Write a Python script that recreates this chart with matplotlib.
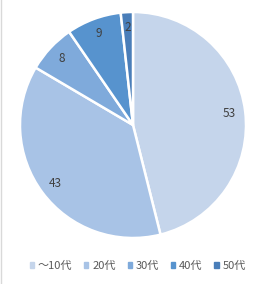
import matplotlib
matplotlib.use("Agg")
import matplotlib.pyplot as plt
from matplotlib.patches import Rectangle

plt.rcParams['font.family'] = ['Noto Sans CJK JP', 'DejaVu Sans']

categories = ["～10代", "20代", "30代", "40代", "50代"]
values = [53, 43, 8, 9, 2]
colors = ["#C5D5EB", "#A8C3E6", "#7FAADB", "#5793CE", "#4A7EB9"]

fig = plt.figure(figsize=(2.65, 2.84), dpi=100)
ax = fig.add_axes([(133 - 113) / 265, 1 - (125 + 113) / 284, 226 / 265, 226 / 284])

wedges, texts = ax.pie(values, labels=[str(v) for v in values], colors=colors,
                       startangle=90, counterclock=False, labeldistance=0.86,
                       wedgeprops=dict(edgecolor="white", linewidth=1.8),
                       textprops=dict(color="#404040", fontsize=8.5))
for t in texts:
    t.set_horizontalalignment("center")
    t.set_verticalalignment("center")
ax.set_xlim(-1.0, 1.0)
ax.set_ylim(-1.0, 1.0)
ax.set_aspect("equal")

handles = [Rectangle((0, 0), 1, 1, color=c) for c in colors]
fig.legend(handles, categories, loc="center", bbox_to_anchor=(0.52, 1 - 266 / 284),
           ncol=5, frameon=False, fontsize=8, handlelength=0.4, handleheight=0.4,
           handletextpad=0.35, columnspacing=1.05, labelcolor="#595959")

fig.add_artist(plt.Line2D([0.5 / 265, 0.5 / 265], [0, 1], color="#D9D9D9", linewidth=1))

fig.savefig("out.png", dpi=100)
